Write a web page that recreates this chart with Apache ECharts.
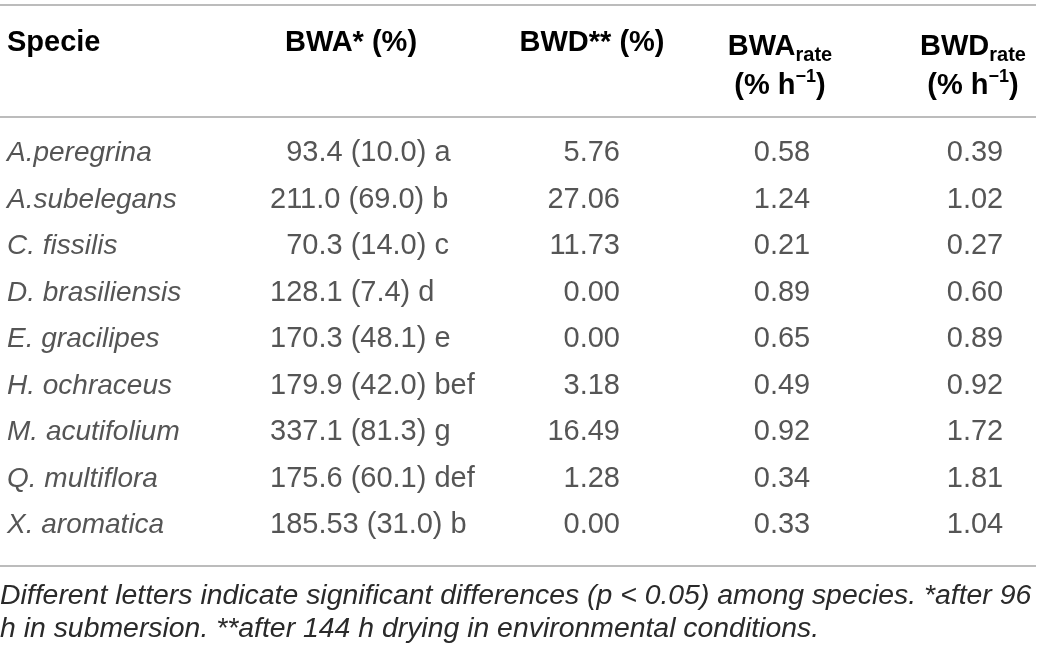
<!DOCTYPE html>
<html>
<head>
<meta charset="utf-8">
<script src="https://cdn.jsdelivr.net/npm/echarts@6/dist/echarts.min.js"></script>
<style>
html, body { margin: 0; padding: 0; background: #fff; }
#chartTable { width: 1042px; height: 652px; }
</style>
</head>
<body>
<div id="chartTable"></div>
<script>
/* table data */
var species = ['A.peregrina', 'A.subelegans', 'C. fissilis', 'D. brasiliensis', 'E. gracilipes',
    'H. ochraceus', 'M. acutifolium', 'Q. multiflora', 'X. aromatica'];
var bwaMean = ['93.4', '211.0', '70.3', '128.1', '170.3', '179.9', '337.1', '175.6', '185.53'];
var bwaSd = ['10.0', '69.0', '14.0', '7.4', '48.1', '42.0', '81.3', '60.1', '31.0'];
var bwaGroup = ['a', 'b', 'c', 'd', 'e', 'bef', 'g', 'def', 'b'];
var bwd = ['5.76', '27.06', '11.73', '0.00', '0.00', '3.18', '16.49', '1.28', '0.00'];
var bwaRate = ['0.58', '1.24', '0.21', '0.89', '0.65', '0.49', '0.92', '0.34', '0.33'];
var bwdRate = ['0.39', '1.02', '0.27', '0.60', '0.89', '0.92', '1.72', '1.81', '1.04'];

var footnote = 'Different letters indicate significant differences (p < 0.05) among species. *after 96\n' +
    'h in submersion. **after 144 h drying in environmental conditions.';

/* layout: column anchors on the x scale (0..1042) */
var textColor = '#2a2a2a';
var ruleColor = '#a6a6a6';
var fontFam = '"Liberation Sans", Arial, sans-serif';

var columns = [
    {x: 7, align: 'left', italic: true, size: 28, text: function (i) { return species[i]; }},
    {x: 270, align: 'left', text: function (i) {
        var m = bwaMean[i];
        if (parseFloat(m) < 100) m = '\u2007' + m;
        return m + ' (' + bwaSd[i] + ') ' + bwaGroup[i];
    }},
    {x: 620, align: 'right', text: function (i) { return bwd[i]; }},
    {x: 782, align: 'center', text: function (i) { return bwaRate[i]; }},
    {x: 975, align: 'center', text: function (i) { return bwdRate[i]; }}
];

var series = columns.map(function (col) {
    return {
        type: 'scatter',
        symbolSize: 1,
        silent: true,
        itemStyle: {color: 'rgba(0,0,0,0)'},
        label: {
            show: true,
            position: 'inside',
            align: col.align,
            verticalAlign: 'middle',
            color: textColor,
            fontFamily: fontFam,
            fontSize: col.size || 29,
            fontStyle: col.italic ? 'italic' : 'normal',
            formatter: function (p) { return col.text(p.dataIndex); }
        },
        data: species.map(function (s, i) { return [col.x, i]; })
    };
});

var headRich = {
    b: {fontFamily: fontFam, fontSize: 29, fontWeight: 'bold', color: textColor, lineHeight: 36},
    s: {fontFamily: fontFam, fontSize: 20, fontWeight: 'bold', color: textColor, lineHeight: 36, verticalAlign: 'bottom'},
    p: {fontFamily: fontFam, fontSize: 18, fontWeight: 'bold', color: textColor, lineHeight: 36, verticalAlign: 'top'}
};

function headText(x, y, txt, align) {
    return {
        type: 'text',
        x: x, y: y,
        style: {text: txt, rich: headRich, align: align || 'center', verticalAlign: 'middle'}
    };
}

function rule(y) {
    return {type: 'line', shape: {x1: 0, y1: y, x2: 1036, y2: y}, style: {stroke: ruleColor, lineWidth: 1.5}};
}

var option = {
    backgroundColor: '#fff',
    animation: false,
    grid: {left: 0, right: 0, top: 130, height: 418.5},
    xAxis: {type: 'value', min: 0, max: 1042, show: false},
    yAxis: {type: 'category', data: species, inverse: true, show: false},
    graphic: [
        rule(5), rule(117), rule(566),
        headText(7, 43, '{b|Specie}', 'left'),
        headText(351, 43, '{b|BWA* (%)}'),
        headText(592, 43, '{b|BWD** (%)}'),
        headText(780, 47, '{b|BWA}{s|rate}'),
        headText(780, 86, '{b|(% h}{p|\u22121}{b|)}'),
        headText(973, 47, '{b|BWD}{s|rate}'),
        headText(973, 86, '{b|(% h}{p|\u22121}{b|)}'),
        {
            type: 'text',
            x: 0, y: 580,
            style: {
                text: footnote,
                fontFamily: fontFam,
                fontSize: 28.4,
                fontStyle: 'italic',
                fill: textColor,
                lineHeight: 33,
                align: 'left',
                verticalAlign: 'top'
            }
        }
    ],
    series: series
};

var chartTable = echarts.init(document.getElementById('chartTable'));
chartTable.setOption(option);
</script>
</body>
</html>
